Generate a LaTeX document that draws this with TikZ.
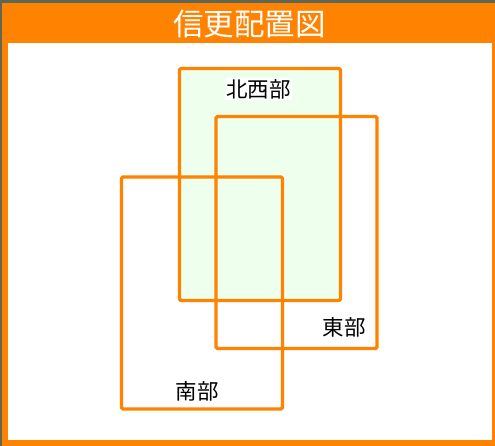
\documentclass[tikz,border=0pt]{standalone}
\usepackage{fontspec}
\setmainfont{Noto Sans CJK JP}
\definecolor{frameorange}{HTML}{FF8200}
\definecolor{areagreen}{HTML}{EEFFEE}
\definecolor{photogray}{HTML}{5E6656}
\begin{document}
\begin{tikzpicture}[x=1pt,y=-1pt,thick,
    area box/.style={draw=frameorange,line width=3.2pt,rounded corners=1.5pt,inner sep=0pt,minimum width=161pt,minimum height=232pt},
    area label/.style={fill=white,inner sep=1pt,font=\fontsize{21.5}{24}\selectfont}]
                \useasboundingbox (0,0) rectangle (495,446);
                \fill[photogray] (0,0) rectangle (495,446);
                \fill[frameorange] (2,3) rectangle (495,446);
                \fill[white] (7.5,43.5) rectangle (492,440);
                \node[text=white,font=\fontsize{30.5}{33}\selectfont] at (249.5, 24) (title) {信更配置図};

                \node[area box, fill=areagreen] at (260, 184.5) (nw) {};
                \node[area box] at (296.5, 232.5) (east) {};
                \node[area box] at (202, 293) (south) {};

                \node[area label] at (258.5, 89) (nwlabel) {北西部};
                \node[area label] at (344, 327) (eastlabel) {東部};
                \node[area label] at (197, 391) (southlabel) {南部};
            \end{tikzpicture}
\end{document}
